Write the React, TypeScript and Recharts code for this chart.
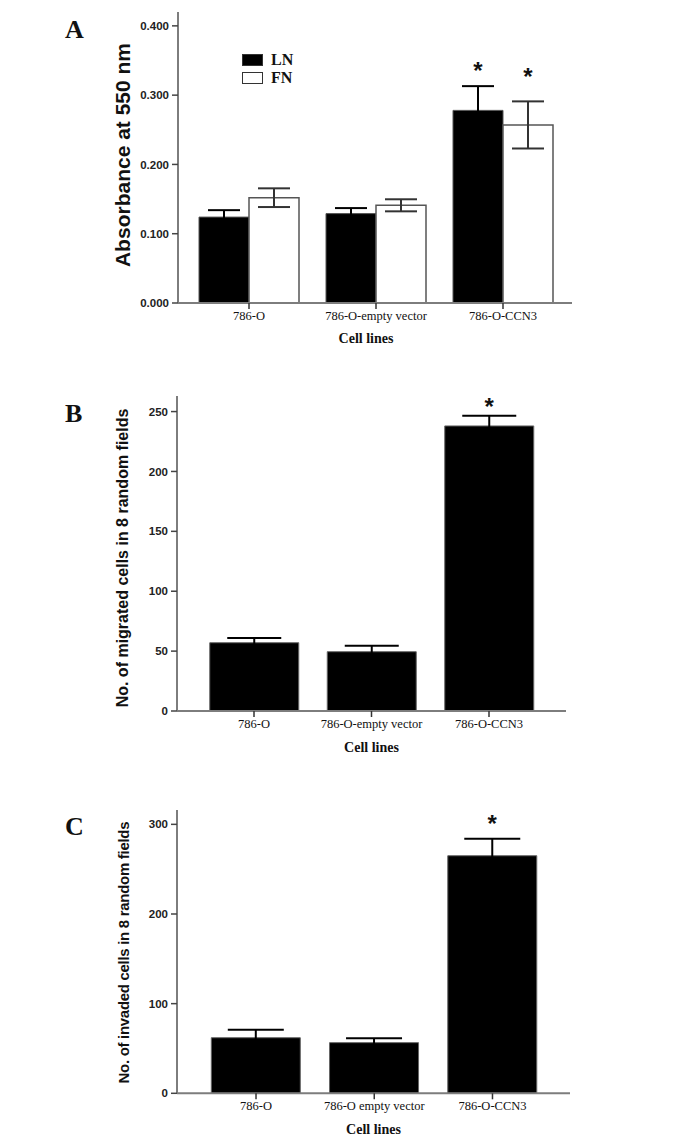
import { Bar, BarChart, ErrorBar, Label, LabelList, Legend, XAxis, YAxis } from 'recharts'

const SERIF = '"Liberation Serif", "Times New Roman", serif'
const SANS = '"Liberation Sans", Arial, sans-serif'
const AXIS = '#7d7d7d'

// Panel A: adhesion to laminin (LN) and fibronectin (FN)
const cellLines = ['786-O', '786-O-empty vector', '786-O-CCN3']
const lnAbsorbance = [0.124, 0.129, 0.278]
const lnError = [0.01, 0.008, 0.035]
const fnAbsorbance = [0.152, 0.141, 0.257]
const fnError = [0.0135, 0.0087, 0.034]
const lnSignificant = [false, false, true]
const fnSignificant = [false, false, true]
const absorbanceTicks = [0, 0.1, 0.2, 0.3, 0.4]

// Panel B: migration
const migratedCells = [57, 49.5, 238]
const migratedError = [4, 5, 8.6]
const migratedSignificant = [false, false, true]
const migratedTicks = [0, 50, 100, 150, 200, 250]

// Panel C: invasion
const invadedLines = ['786-O', '786-O empty vector', '786-O-CCN3']
const invadedCells = [62, 56.5, 265]
const invadedError = [9, 5, 19]
const invadedSignificant = [false, false, true]
const invadedTicks = [0, 100, 200, 300]

const legendItems = [
    { key: 'ln', name: 'LN', fill: '#000' },
    { key: 'fn', name: 'FN', fill: '#fff' },
]

const absorbanceData = cellLines.map((name, i) => ({
    name,
    ln: lnAbsorbance[i],
    lnErr: lnError[i],
    lnStar: lnSignificant[i] ? '*' : '',
    fn: fnAbsorbance[i],
    fnErr: fnError[i],
    fnStar: fnSignificant[i] ? '*' : '',
}))

const migratedData = cellLines.map((name, i) => ({
    name,
    value: migratedCells[i],
    err: migratedError[i],
    star: migratedSignificant[i] ? '*' : '',
}))

const invadedData = invadedLines.map((name, i) => ({
    name,
    value: invadedCells[i],
    err: invadedError[i],
    star: invadedSignificant[i] ? '*' : '',
}))

// asterisk sits a fixed gap above the top of the error bar
const makeStar = (values: number[], errors: number[], gap: number, size: number) => (props: any) => {
    const { x, y, width, height, index, value } = props
    if (!value) return null
    const errPx = values[index] ? (errors[index] / values[index]) * height : 0
    const cy = y - errPx - gap
    return (
        <text
            x={x + width / 2}
            y={cy + size * 0.57}
            textAnchor="middle"
            fontFamily={SANS}
            fontWeight="bold"
            fontSize={size}
            fill="#111"
        >
            *
        </text>
    )
}

const yTitle = (text: string, dist: number, dy: number, size: number, spacing = 0) => (props: any) => {
    const vb = props.viewBox
    const cx = vb.x + vb.width - dist
    const cy = vb.y + vb.height / 2 + dy
    return (
        <text
            x={cx}
            y={cy}
            transform={`rotate(-90 ${cx} ${cy})`}
            textAnchor="middle"
            dominantBaseline="central"
            fontFamily={SANS}
            fontWeight="bold"
            fontSize={size}
            letterSpacing={spacing}
            fill="#111"
        >
            {text}
        </text>
    )
}

const LegendBox = () => (
    <div style={{ fontFamily: SERIF, fontWeight: 'bold', fontSize: 16, color: '#111' }}>
        {legendItems.map((item) => (
            <div key={item.key} style={{ display: 'flex', alignItems: 'center', height: 18 }}>
                <span
                    style={{
                        display: 'inline-block',
                        width: 19,
                        height: 10,
                        background: item.fill,
                        border: '1.5px solid #333',
                        marginRight: 8,
                    }}
                />
                {item.name}
            </div>
        ))}
    </div>
)

const PanelLetter = ({ letter, top }: { letter: string; top: number }) => (
    <div
        style={{
            position: 'absolute',
            left: 65,
            top,
            fontFamily: SERIF,
            fontWeight: 'bold',
            fontSize: 26,
            lineHeight: '26px',
            color: '#111',
        }}
    >
        {letter}
    </div>
)

const yTick = { fontFamily: SANS, fontSize: 11.5, fontWeight: 'bold', fill: '#222' }
const xTick = { fontFamily: SERIF, fontSize: 12.5, fill: '#111' }

const cellLinesLabel = (offset: number, dx: number) => (
    <Label
        value="Cell lines"
        position="insideBottom"
        offset={offset}
        dx={dx}
        style={{ fontFamily: SERIF, fontWeight: 'bold', fontSize: 14, fill: '#111' }}
    />
)

export default function App() {
    return (
        <div style={{ position: 'absolute', left: 0, top: 0, width: 688, height: 1144, background: '#fff' }}>
            <PanelLetter letter="A" top={17} />
            <PanelLetter letter="B" top={401} />
            <PanelLetter letter="C" top={814} />

            <div style={{ position: 'absolute', left: 0, top: 0 }}>
                <BarChart
                    width={688}
                    height={350}
                    data={absorbanceData}
                    margin={{ top: 12, right: 116, bottom: 5, left: 100 }}
                    barCategoryGap={13.5}
                    barGap={0}
                >
                    <XAxis
                        dataKey="name"
                        interval={0}
                        height={42}
                        padding={{ left: 7.5, right: 5.5 }}
                        axisLine={{ stroke: AXIS, strokeWidth: 2 }}
                        tickLine={{ stroke: '#333', strokeWidth: 1.5 }}
                        tickSize={6}
                        tick={xTick}
                    >
                        {cellLinesLabel(2.5, -9)}
                    </XAxis>
                    <YAxis
                        width={78}
                        domain={[0, 0.42]}
                        ticks={absorbanceTicks}
                        interval={0}
                        tickFormatter={(v: number) => v.toFixed(3)}
                        axisLine={{ stroke: AXIS, strokeWidth: 2 }}
                        tickLine={{ stroke: '#444', strokeWidth: 1.5 }}
                        tickSize={6}
                        tickMargin={3}
                        tick={yTick}
                    >
                        <Label content={yTitle('Absorbance at 550 nm', 56, -2.5, 21)} />
                    </YAxis>
                    <Legend
                        layout="vertical"
                        align="center"
                        verticalAlign="middle"
                        content={<LegendBox />}
                        wrapperStyle={{ position: 'absolute', left: 242, top: 51, width: 'auto' }}
                    />
                    <Bar dataKey="ln" name="LN" fill="#000" stroke="#555" strokeWidth={1} isAnimationActive={false}>
                        <ErrorBar dataKey="lnErr" width={16} stroke="#000" strokeWidth={2} direction="y" />
                        <LabelList dataKey="lnStar" content={makeStar(lnAbsorbance, lnError, 21, 24)} />
                    </Bar>
                    <Bar dataKey="fn" name="FN" fill="#fff" stroke="#555" strokeWidth={1.5} isAnimationActive={false}>
                        <ErrorBar dataKey="fnErr" width={16} stroke="#333" strokeWidth={2} direction="y" />
                        <LabelList dataKey="fnStar" content={makeStar(fnAbsorbance, fnError, 30, 24)} />
                    </Bar>
                </BarChart>
            </div>

            <div style={{ position: 'absolute', left: 0, top: 380 }}>
                <BarChart
                    width={688}
                    height={380}
                    data={migratedData}
                    margin={{ top: 16, right: 122, bottom: 7, left: 100 }}
                    barCategoryGap={14.5}
                >
                    <XAxis
                        dataKey="name"
                        interval={0}
                        height={42}
                        padding={{ left: 18.25, right: 18.25 }}
                        axisLine={{ stroke: AXIS, strokeWidth: 2 }}
                        tickLine={{ stroke: '#333', strokeWidth: 1.5 }}
                        tickSize={6}
                        tick={xTick}
                    >
                        {cellLinesLabel(1.5, 0)}
                    </XAxis>
                    <YAxis
                        width={77}
                        domain={[0, 263]}
                        ticks={migratedTicks}
                        interval={0}
                        axisLine={{ stroke: AXIS, strokeWidth: 2 }}
                        tickLine={{ stroke: '#444', strokeWidth: 1.5 }}
                        tickSize={6}
                        tickMargin={3}
                        tick={yTick}
                    >
                        <Label content={yTitle('No. of migrated cells in 8 random fields', 55, 4.5, 16)} />
                    </YAxis>
                    <Bar dataKey="value" fill="#000" stroke="#666" strokeWidth={1} isAnimationActive={false}>
                        <ErrorBar dataKey="err" width={27} stroke="#000" strokeWidth={2} direction="y" />
                        <LabelList dataKey="star" content={makeStar(migratedCells, migratedError, 14, 24)} />
                    </Bar>
                </BarChart>
            </div>

            <div style={{ position: 'absolute', left: 0, top: 780 }}>
                <BarChart
                    width={688}
                    height={364}
                    data={invadedData}
                    margin={{ top: 30, right: 118, bottom: 8.7, left: 100 }}
                    barCategoryGap={14.4}
                >
                    <XAxis
                        dataKey="name"
                        interval={0}
                        height={42}
                        padding={{ left: 19.9, right: 18.4 }}
                        axisLine={{ stroke: AXIS, strokeWidth: 2 }}
                        tickLine={{ stroke: '#333', strokeWidth: 1.5 }}
                        tickSize={6}
                        tick={xTick}
                    >
                        {cellLinesLabel(1.8, 0)}
                    </XAxis>
                    <YAxis
                        width={77}
                        domain={[0, 316]}
                        ticks={invadedTicks}
                        interval={0}
                        axisLine={{ stroke: AXIS, strokeWidth: 2 }}
                        tickLine={{ stroke: '#444', strokeWidth: 1.5 }}
                        tickSize={6}
                        tickMargin={3}
                        tick={yTick}
                    >
                        <Label content={yTitle('No. of invaded cells in 8  random fields', 53, 1, 15, -0.3)} />
                    </YAxis>
                    <Bar dataKey="value" fill="#000" stroke="#666" strokeWidth={1} isAnimationActive={false}>
                        <ErrorBar dataKey="err" width={28} stroke="#000" strokeWidth={2} direction="y" />
                        <LabelList dataKey="star" content={makeStar(invadedCells, invadedError, 20, 24)} />
                    </Bar>
                </BarChart>
            </div>
        </div>
    )
}
